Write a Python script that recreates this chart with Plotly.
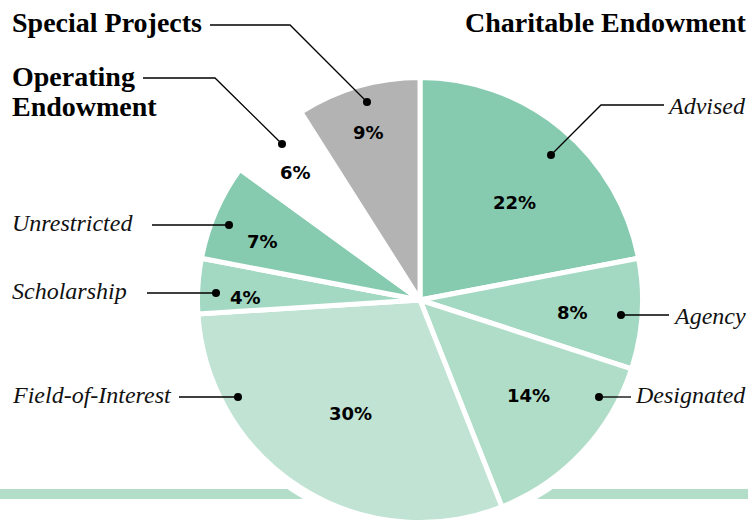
import math
import plotly.graph_objects as go

# slices, clockwise from 12 o'clock
labels = ["Advised", "Agency", "Designated", "Field-of-Interest", "Scholarship",
          "Unrestricted", "Operating Endowment", "Special Projects"]
values = [22, 8, 14, 30, 4, 7, 6, 9]
colors = ["#86CBAF", "#A3D8C2", "#B0DDC8", "#C0E3D3", "#A3D8C2",
          "#86CBAF", "#FFFFFF", "#B3B3B3"]

W, H = 748, 524
CX, CY, R = 420, 300, 222.5   # white outline eats ~2.5px of the edge


def px(x):
    return x / W


def py(y):
    return 1 - y / H


fig = go.Figure(go.Pie(
    labels=labels, values=values, sort=False, direction="clockwise", rotation=0,
    marker=dict(colors=colors, line=dict(color="white", width=5)),
    textinfo="none",
    domain=dict(x=[px(CX - R), px(CX + R)], y=[py(CY + R), py(CY - R)]),
    hoverinfo="skip", showlegend=False,
))

shapes = [
    dict(type="rect", xref="paper", yref="paper", x0=0, x1=1, y0=py(499), y1=py(489),
         fillcolor="#B2DEC9", line_width=0, layer="below"),
    dict(type="circle", xref="paper", yref="paper", x0=px(CX - 231), x1=px(CX + 231),
         y0=py(CY + 231), y1=py(CY - 231), fillcolor="white", line_width=0, layer="below"),
]

# leader lines (pixel polyline, dot at the last point)
leaders = [
    [(210, 25), (290, 25), (367, 102)],
    [(143, 78), (215, 78), (282, 144)],
    [(664, 105), (601, 105), (551, 155)],
    [(669, 315), (621, 315)],
    [(631, 397), (599, 397)],
    [(179, 397), (238, 397)],
    [(147, 293), (216, 293)],
    [(152, 225), (229, 225)],
]
for pts in leaders:
    path = "M " + " L ".join(f"{px(x)},{py(y)}" for x, y in pts)
    shapes.append(dict(type="path", xref="paper", yref="paper", path=path,
                       line=dict(color="black", width=1.3)))
    dx, dy = pts[-1]
    shapes.append(dict(type="circle", xref="paper", yref="paper",
                       x0=px(dx - 4), x1=px(dx + 4), y0=py(dy + 4), y1=py(dy - 4),
                       fillcolor="black", line_width=0))

# percent labels placed along each slice's mid angle
label_r = [136, 153, 145, 133, 175, 168, 178, 175]
label_nudge = [4.5, 0.9, -1.9, -0.8, -2.8, -3.0, -1.0, -1.0]
pct_font = dict(family="DejaVu Sans", size=18, color="black", weight="bold")
total = sum(values)
annotations = []
cum = 0
for v, r, d in zip(values, label_r, label_nudge):
    ang = math.radians((cum + v / 2) / total * 360 + d)
    cum += v
    annotations.append(dict(text=f"{v / total * 100:.0f}%", xref="paper", yref="paper",
                            x=px(CX + r * math.sin(ang)), y=py(CY - r * math.cos(ang)),
                            xanchor="center", yanchor="middle", showarrow=False,
                            font=pct_font))

serif = "Liberation Serif"
head = dict(family=serif, size=28, color="black", weight="bold")
ital = dict(family=serif, size=24, color="#111", style="italic")
notes = [
    ("Special Projects", 10, 23, "left", head),
    ("Operating", 10, 76, "left", head),
    ("Endowment", 10, 106, "left", head),
    ("Charitable Endowment", 748, 23, "right", head),
    ("Advised", 748, 106, "right", ital),
    ("Agency", 748, 316, "right", ital),
    ("Designated", 748, 395, "right", ital),
    ("Field-of-Interest", 10, 395, "left", ital),
    ("Scholarship", 10, 291, "left", ital),
    ("Unrestricted", 10, 223, "left", ital),
]
annotations += [dict(text=t, x=px(x), y=py(y), xref="paper", yref="paper",
                     xanchor=a, yanchor="middle", showarrow=False, font=f)
                for t, x, y, a, f in notes]

fig.update_layout(
    width=W, height=H, margin=dict(l=0, r=0, t=0, b=0),
    paper_bgcolor="white", plot_bgcolor="white",
    shapes=shapes, annotations=annotations,
)
fig.write_html("out.html", config={"displayModeBar": False},
               post_script="document.body.style.margin='0px';")
